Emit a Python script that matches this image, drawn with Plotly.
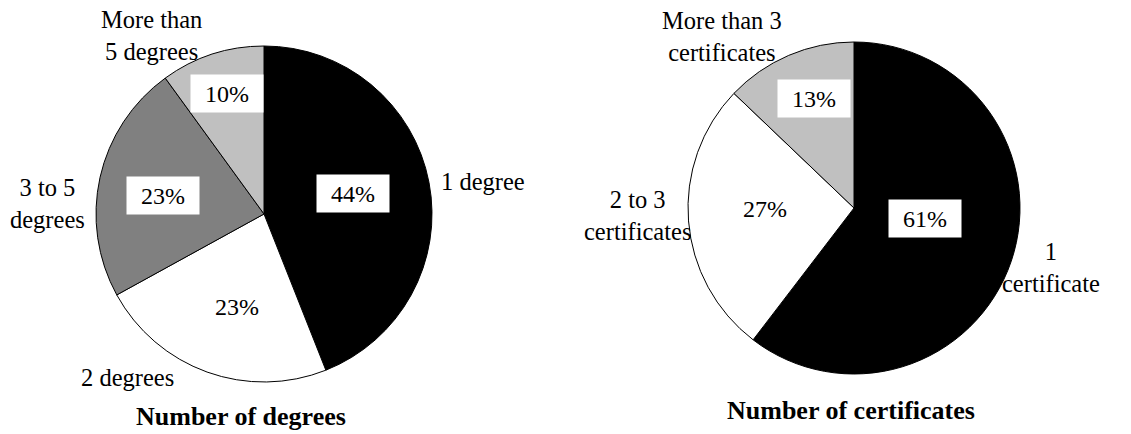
import math
import plotly.graph_objects as go

# ---------------- data ----------------
deg_labels = ["1 degree", "2 degrees", "3 to 5 degrees", "More than 5 degrees"]
deg_values = [44, 23, 23, 10]
cert_labels = ["1 certificate", "2 to 3 certificates", "More than 3 certificates"]
cert_values = [61, 27, 13]
titles = ["Number of degrees", "Number of certificates"]

# ---------------- display / layout ----------------
deg_display = ["1 degree", "2 degrees", "3 to 5<br>degrees", "More than<br>5 degrees"]
cert_display = ["1<br>certificate", "2 to 3<br>certificates", "More than 3<br>certificates"]
deg_colors = ["#000000", "#ffffff", "#808080", "#c0c0c0"]
cert_colors = ["#000000", "#ffffff", "#c0c0c0"]

W, H = 1131, 434
FONT = "Liberation Serif"

# pie geometry in pixels (centre, radius)
pies = [dict(cx=264, cy=214, r=168), dict(cx=854, cy=208, r=166)]
# percent label placement: radial fraction, angle nudge (deg), boxed
deg_pct_pos = [(0.543, -2.2, True), (0.576, -3.6, False), (0.614, -2.3, True), (0.753, 1.0, True)]
cert_pct_pos = [(0.432, -10.6, True), (0.539, 3.9, False), (0.700, 3.0, True)]
# category label placement: radial fraction, angle nudge (deg)
deg_cat_pos = [(1.321, 2.25), (1.267, 20.2), (1.290, -9.7), (1.255, -14.4)]
cert_cat_pos = [(1.241, -2.0), (1.304, 2.4), (1.307, -14.4)]
title_px = [(241, 416), (851, 410)]


def mid_angles(values):
    total = float(sum(values))
    out, cum = [], 0.0
    for v in values:
        out.append((cum + v / 2.0) / total * 360.0)
        cum += v
    return out


def polar_px(pie, frac, ang):
    a = math.radians(ang)
    return (pie["cx"] + frac * pie["r"] * math.sin(a),
            pie["cy"] - frac * pie["r"] * math.cos(a))


fig = go.Figure()
annotations = []

sets = [
    (deg_labels, deg_values, deg_display, deg_colors, deg_pct_pos, deg_cat_pos),
    (cert_labels, cert_values, cert_display, cert_colors, cert_pct_pos, cert_cat_pos),
]

for k, (labels, values, display, colors, pct_pos, cat_pos) in enumerate(sets):
    p = pies[k]
    fig.add_trace(go.Pie(
        labels=labels,
        values=values,
        sort=False,
        direction="clockwise",
        rotation=0,
        textinfo="none",
        hoverinfo="label+value",
        marker=dict(colors=colors, line=dict(color="#000000", width=1)),
        domain=dict(
            x=[(p["cx"] - p["r"]) / W, (p["cx"] + p["r"]) / W],
            y=[1 - (p["cy"] + p["r"]) / H, 1 - (p["cy"] - p["r"]) / H],
        ),
        showlegend=False,
    ))
    mids = mid_angles(values)
    for i, v in enumerate(values):
        frac, nudge, boxed = pct_pos[i]
        x, y = polar_px(p, frac, mids[i] + nudge)
        annotations.append(dict(
            x=x / W, y=1 - y / H, xref="paper", yref="paper",
            text=f"{v}%", showarrow=False,
            xanchor="center", yanchor="middle",
            font=dict(family=FONT, size=24, color="#000000"),
            bgcolor="#ffffff" if boxed else "rgba(0,0,0,0)",
            width=70, height=35, borderpad=1,
        ))
        frac, nudge = cat_pos[i]
        x, y = polar_px(p, frac, mids[i] + nudge)
        annotations.append(dict(
            x=x / W, y=1 - y / H, xref="paper", yref="paper",
            text=display[i], showarrow=False,
            xanchor="center", yanchor="middle", align="center",
            font=dict(family=FONT, size=24.5, color="#000000"),
        ))
    tx, ty = title_px[k]
    annotations.append(dict(
        x=tx / W, y=1 - ty / H, xref="paper", yref="paper",
        text=f"<b>{titles[k]}</b>", showarrow=False,
        xanchor="center", yanchor="middle",
        font=dict(family=FONT, size=26, color="#000000"),
    ))

fig.update_layout(
    width=W, height=H,
    margin=dict(l=0, r=0, t=0, b=0),
    paper_bgcolor="#ffffff",
    plot_bgcolor="#ffffff",
    annotations=annotations,
    font=dict(family=FONT),
)

fig.write_html(
    "out.html",
    config={"displayModeBar": False},
    post_script="document.body.style.margin='0';document.body.style.padding='0';"
                "document.documentElement.style.overflow='hidden';",
)
